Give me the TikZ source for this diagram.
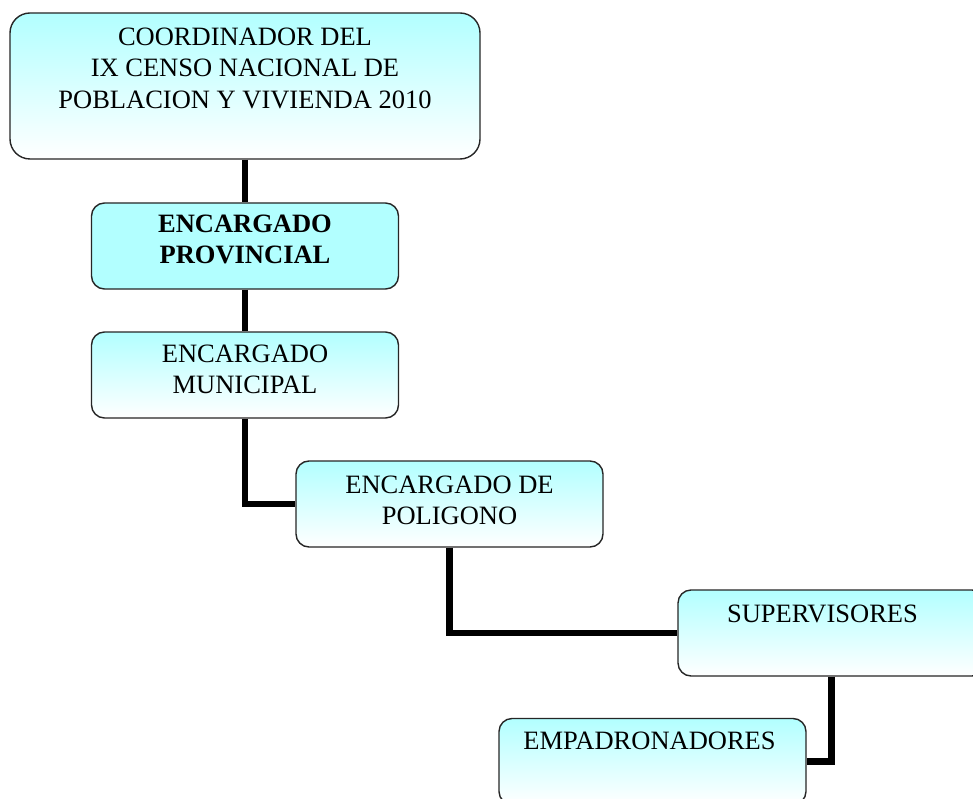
\documentclass[tikz,border=0pt]{standalone}
\usepackage{fontspec}
\setmainfont{Liberation Serif}
\usetikzlibrary{positioning}
\definecolor{cargocyan}{RGB}{178,255,255}

\begin{document}
\begin{tikzpicture}[x=1pt,y=-1pt,
  cargobox/.style={draw=black!85,line width=1.4pt,rounded corners=13pt,minimum width=307pt,minimum height=86pt,inner sep=0pt},
  cargo/.style={cargobox,top color=cargocyan,bottom color=white},
  cargotxt/.style={align=center,inner sep=0pt,font=\fontsize{26.5}{31.5}\selectfont},
  enlace/.style={line width=6.5pt}]
\useasboundingbox (0,0) rectangle (973,799);
% cajas
\node[cargo,minimum width=470pt,minimum height=146pt,rounded corners=20pt] (coord) at (245,86) {};
\node[cargobox,fill=cargocyan] (prov) at (245,246) {};
\node[cargo] (muni) at (245,375) {};
\node[cargo] (poli) at (449.5,504) {};
\node[cargo] (sup) at (831.5,633) {};
\node[cargo] (emp) at (652.5,761.5) {};
% textos
\node[cargotxt,below=15pt of coord.north] (coordtxt) {COORDINADOR DEL\\IX CENSO NACIONAL DE\\POBLACION Y VIVIENDA 2010};
\node[cargotxt,below=12pt of prov.north,font=\fontsize{26.5}{31.5}\selectfont\bfseries] (provtxt) {ENCARGADO\\PROVINCIAL};
\node[cargotxt,below=13pt of muni.north] (munitxt) {ENCARGADO\\MUNICIPAL};
\node[cargotxt,below=15pt of poli.north] (politxt) {ENCARGADO DE\\POLIGONO};
\node[cargotxt,below=15pt of sup.north,xshift=-9pt] (suptxt) {SUPERVISORES};
\node[cargotxt,below=14pt of emp.north,xshift=-3pt] (emptxt) {EMPADRONADORES};
% enlaces
\draw[enlace] (coord) -- (prov);
\draw[enlace] (prov) -- (muni);
\draw[enlace] (muni.south) |- (poli.west);
\draw[enlace] (poli.south) |- (sup.west);
\draw[enlace] (sup.south) |- (emp.east);
\end{tikzpicture}
\end{document}
